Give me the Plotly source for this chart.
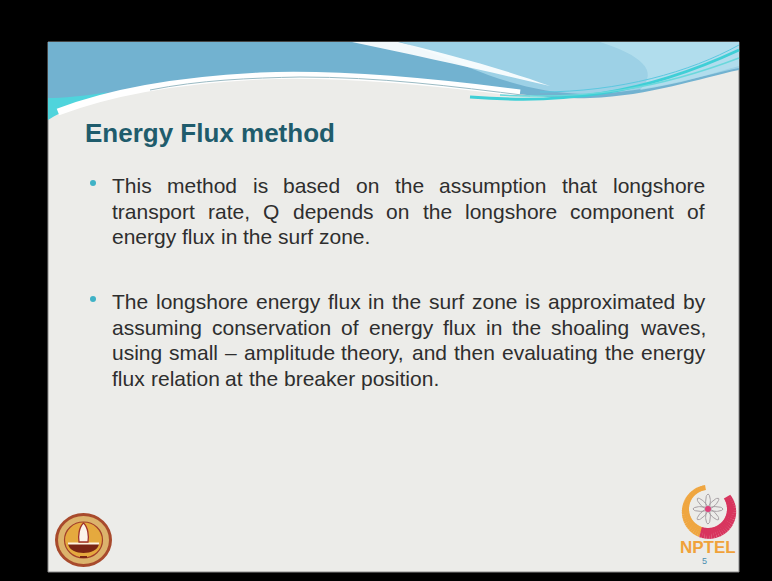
import numpy as np
import plotly.graph_objects as go

# slide content
slide_title = "Energy Flux method"
bullet_1 = [
    "This method is based on the assumption that longshore",
    "transport rate, Q depends on the longshore component of",
    "energy flux in the surf zone.",
]
bullet_2 = [
    "The longshore energy flux in the surf zone is approximated by",
    "assuming conservation of energy flux in the shoaling waves,",
    "using small \u2013 amplitude theory, and then evaluating the energy",
    "flux relation at the breaker position.",
]
bullet_1_rows = [185, 211, 236]
bullet_2_rows = [301, 327, 352, 378]
logo_text = "NPTEL"
page_number = "5"

W, H = 772, 581
SL, ST, SR, SB = 48, 42, 739, 572   # slide box on the frame
TEXT_L, TEXT_R = 112, 705
BODY_SIZE = 21

# Arial / Helvetica advance widths (1/1000 em), used to justify lines
ARIAL_W = {' ': 278, ',': 278, '.': 278, '-': 333, '\u2013': 556,
           'a': 556, 'b': 556, 'c': 500, 'd': 556, 'e': 556, 'f': 278, 'g': 556, 'h': 556,
           'i': 222, 'j': 222, 'k': 500, 'l': 222, 'm': 833, 'n': 556, 'o': 556, 'p': 556,
           'q': 556, 'r': 333, 's': 500, 't': 278, 'u': 556, 'v': 500, 'w': 722, 'x': 500,
           'y': 500, 'z': 500, 'Q': 778, 'T': 611}


def text_width(s, size):
    return sum(ARIAL_W.get(c, 556) for c in s) * size / 1000.0


fig = go.Figure()
shapes = []
annotations = []

# slide background
shapes.append(dict(type="rect", x0=SL, x1=SR, y0=ST, y1=SB, fillcolor="#ecece9",
                   line=dict(color="#8a8a8a", width=1), layer="below"))

# header wave
shapes.append(dict(type="path", fillcolor="#72b2d0", line=dict(width=0), layer="below",
                   path="M48,42 L739,42 L739,70 C700,78 650,96 590,98 C520,100 470,84 400,78 "
                        "C330,72 260,70 190,80 C130,88 90,100 48,118 Z"))
shapes.append(dict(type="path", fillcolor="#9dd1e6", line=dict(width=0), layer="below",
                   path="M400,42 L739,42 L739,68 C700,76 650,92 590,94 C540,94 500,80 470,68 "
                        "C440,56 420,48 400,42 Z"))
shapes.append(dict(type="path", fillcolor="#b9e2ef", opacity=0.7, line=dict(width=0), layer="below",
                   path="M600,42 L739,42 L739,66 C710,74 680,84 640,90 C660,70 640,55 600,42 Z"))
shapes.append(dict(type="path", fillcolor="#ffffff", opacity=0.9, line=dict(width=0), layer="below",
                   path="M352,42 L398,42 C440,52 500,68 550,86 C490,72 420,56 352,42 Z"))
shapes.append(dict(type="path", fillcolor="#4fd4dc", line=dict(width=0), layer="below",
                   path="M48,98 C62,98 85,96 108,92 C85,102 64,110 48,120 Z"))
shapes.append(dict(type="path", line=dict(color="#ffffff", width=7), layer="below",
                   path="M58,112 C110,92 180,80 260,76 C330,73 420,80 520,93"))
shapes.append(dict(type="path", line=dict(color="#9bbbc4", width=1), layer="below",
                   path="M150,90 C200,80 250,78 300,77 C380,77 450,86 530,96"))
shapes.append(dict(type="path", line=dict(color="#3fcfd6", width=3), layer="below",
                   path="M470,97 C560,104 640,96 739,50"))
shapes.append(dict(type="path", line=dict(color="#6ad8dc", width=1.5), layer="below",
                   path="M500,95 C590,100 660,88 739,58"))
shapes.append(dict(type="path", line=dict(color="#5cc8e0", width=1), layer="below",
                   path="M540,92 C620,92 690,72 739,45"))

# title
annotations.append(dict(text=slide_title, x=85, y=133, xref="x", yref="y", xanchor="left",
                        yanchor="middle", showarrow=False, borderpad=0, borderwidth=0,
                        font=dict(family="Liberation Sans, Arial", size=26, color="#1f5c6c",
                                  weight="bold")))


def add_paragraph(lines, rows):
    shapes.append(dict(type="circle", x0=90, x1=96, y0=rows[0] - 5, y1=rows[0] + 1,
                       fillcolor="#3fb2c6", line=dict(width=0)))
    for i, (line, yc) in enumerate(zip(lines, rows)):
        words = line.split(" ")
        widths = [text_width(w, BODY_SIZE) for w in words]
        if i < len(lines) - 1 and len(words) > 1:
            gap = (TEXT_R - TEXT_L - sum(widths)) / (len(words) - 1)
        else:
            gap = text_width(" ", BODY_SIZE)
        x = TEXT_L
        for w, ww in zip(words, widths):
            annotations.append(dict(text=w, x=x, y=yc, xref="x", yref="y", xanchor="left",
                                    yanchor="middle", showarrow=False, borderpad=0, borderwidth=0,
                                    font=dict(family="Liberation Sans, Arial", size=BODY_SIZE,
                                              color="#2e2e2e")))
            x += ww + gap


add_paragraph(bullet_1, bullet_1_rows)
add_paragraph(bullet_2, bullet_2_rows)

# IIT Madras seal (bottom left)
cx, cy = 83.5, 540
shapes.append(dict(type="circle", x0=cx - 28.5, x1=cx + 28.5, y0=cy - 27, y1=cy + 27,
                   fillcolor="#a84a2c", line=dict(width=0)))
shapes.append(dict(type="circle", x0=cx - 25.5, x1=cx + 25.5, y0=cy - 24, y1=cy + 24,
                   fillcolor="#dcb36c", line=dict(width=0)))
shapes.append(dict(type="circle", x0=cx - 19, x1=cx + 19, y0=cy - 18, y1=cy + 18,
                   fillcolor="#e5a93e", line=dict(color="#a3402a", width=1.2)))
shapes.append(dict(type="path", fillcolor="#7a2514", line=dict(width=0),
                   path="M68,544 C70,556 97,556 99,544 Z"))
shapes.append(dict(type="path", line=dict(color="#fff4e0", width=2), path="M68,543.5 L99,543.5"))
shapes.append(dict(type="path", fillcolor="#fbf3ea", line=dict(color="#a0322a", width=1.3),
                   path="M83.5,523 C88,527 89,536 88,542 L79,542 C78,536 79,527 83.5,523 Z"))
shapes.append(dict(type="path", line=dict(color="#7a2514", width=2), path="M80,557 L87,557"))

# NPTEL wheel (bottom right)
nx, ny = 708, 509
ang = np.deg2rad(np.arange(100, 395, 5))
sx, sy, px, py = [], [], [], []
for a in ang:
    deg = np.rad2deg(a)
    r_out = 27 + 3 * np.sin(np.deg2rad(deg - 200))
    seg_x = [nx + 19 * np.cos(a), nx + r_out * np.cos(a), None]
    seg_y = [ny - 19 * np.sin(a), ny - r_out * np.sin(a), None]
    if deg < 255:
        sx += seg_x
        sy += seg_y
    else:
        px += seg_x
        py += seg_y
fig.add_trace(go.Scatter(x=sx, y=sy, mode="lines", line=dict(color="#efa640", width=2.5),
                         hoverinfo="skip"))
fig.add_trace(go.Scatter(x=px, y=py, mode="lines", line=dict(color="#d8355e", width=2.5),
                         hoverinfo="skip"))
t = np.linspace(0, 2 * np.pi, 40)
for k in range(8):
    th = k * np.pi / 4
    ex = 7.5 * np.cos(t) + 7.5
    ey = 2.4 * np.sin(t)
    fig.add_trace(go.Scatter(x=nx + ex * np.cos(th) - ey * np.sin(th),
                             y=ny + ex * np.sin(th) + ey * np.cos(th),
                             mode="lines", line=dict(color="#a7a0a4", width=1), hoverinfo="skip"))
shapes.append(dict(type="circle", x0=nx - 3, x1=nx + 3, y0=ny - 3, y1=ny + 3,
                   fillcolor="#e0407a", line=dict(width=0)))
annotations.append(dict(text=logo_text, x=708, y=547, xref="x", yref="y", showarrow=False,
                        font=dict(family="Liberation Sans, Arial", size=17, color="#f0a23a",
                                  weight="bold")))
annotations.append(dict(text=page_number, x=704, y=561, xref="x", yref="y", showarrow=False,
                        font=dict(family="Liberation Sans, Arial", size=9, color="#4a8fb0")))

fig.update_layout(
    width=W, height=H, margin=dict(l=0, r=0, t=0, b=0),
    paper_bgcolor="#000000", plot_bgcolor="#000000", showlegend=False,
    xaxis=dict(range=[0, W], visible=False, fixedrange=True),
    yaxis=dict(range=[H, 0], visible=False, fixedrange=True),
    shapes=shapes, annotations=annotations,
)
# drop the default page margin so the figure sits at the window corner
fig.write_html("out.html", config={"displayModeBar": False},
               post_script="document.body.style.margin='0';")
